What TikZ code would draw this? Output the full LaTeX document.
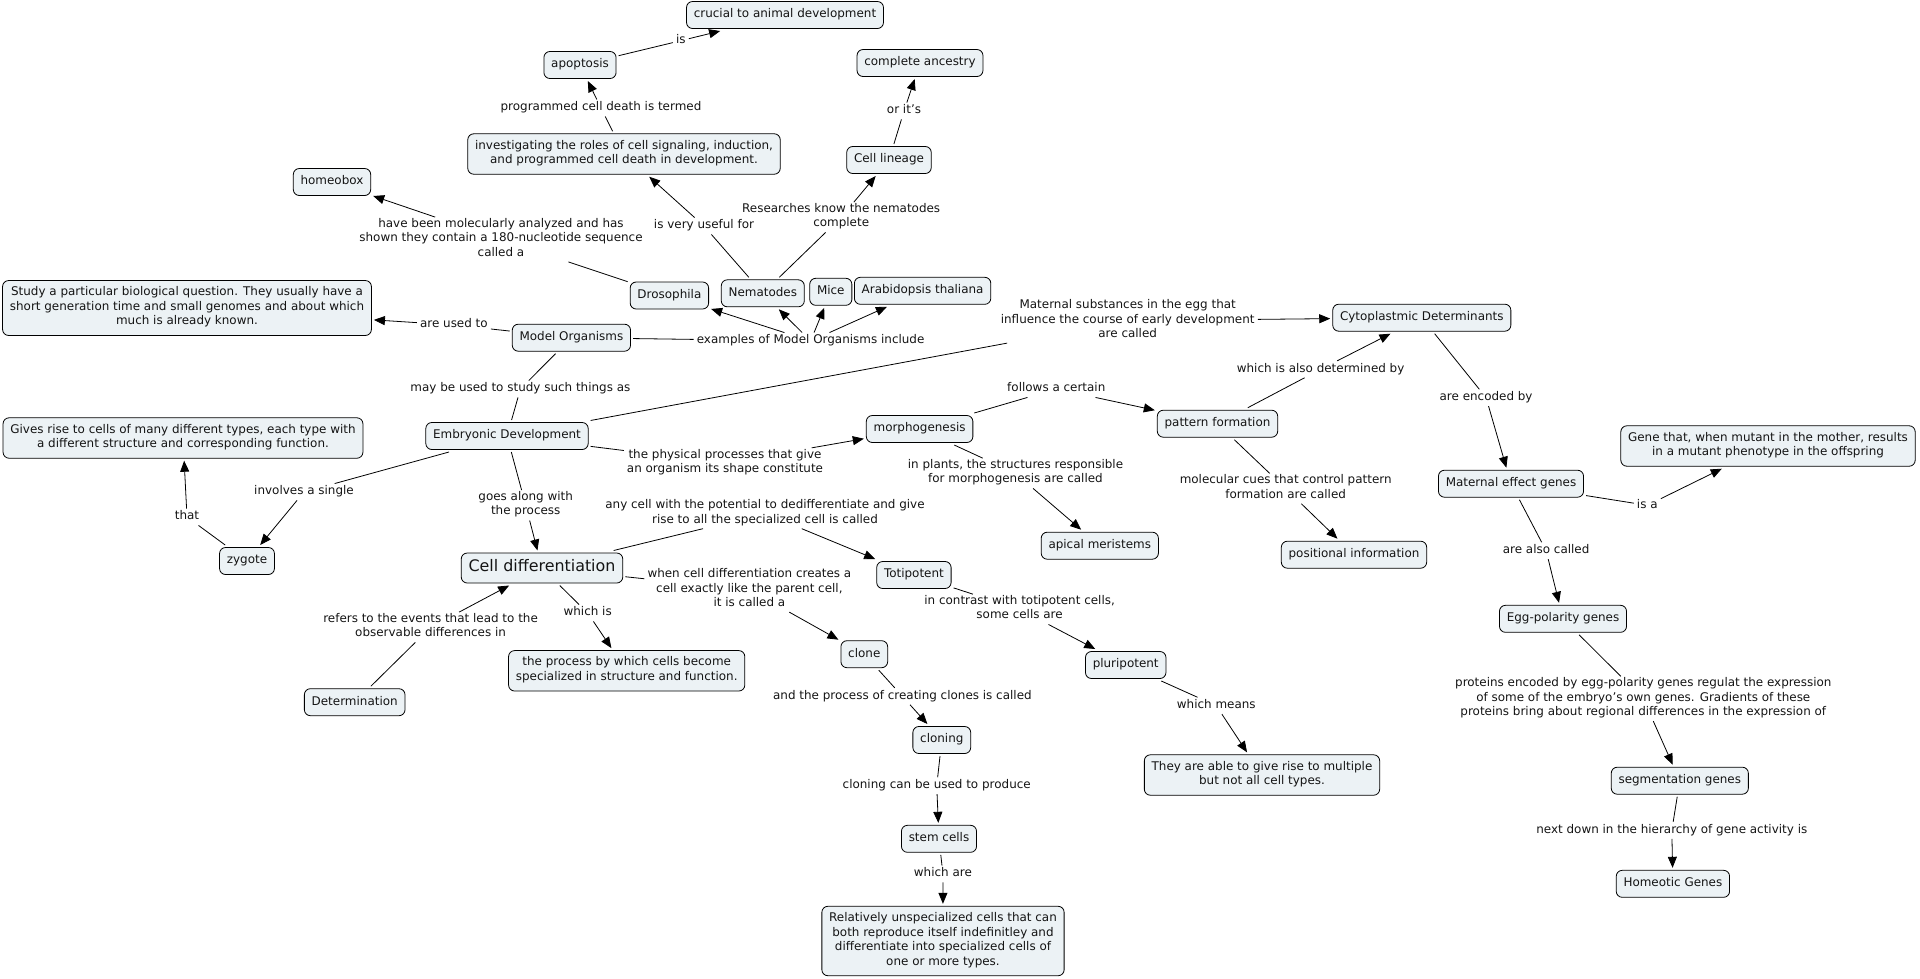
\documentclass[tikz,border=0pt]{standalone}
\usepackage{fontspec}
\setmainfont{DejaVu Sans}
\usetikzlibrary{arrows.meta}
\definecolor{cfill}{RGB}{236,242,245}
\definecolor{ink}{RGB}{20,20,20}
\begin{document}
\begin{tikzpicture}[x=1pt,y=-1pt,
  cpt/.style={draw=black, line width=0.8pt, fill=cfill, rounded corners=6pt, align=center,
    inner xsep=7.3pt, inner ysep=6.25pt, outer sep=2.5pt, text=ink,
    font=\fontsize{11.95}{14.5}\selectfont, execute at begin node=\strut, execute at end node=\strut},
  bigcpt/.style={cpt, inner ysep=5.5pt, font=\fontsize{15.9}{19}\selectfont},
  lbl/.style={align=center, inner xsep=3pt, inner ysep=1pt, text=ink,
    font=\fontsize{11.95}{14.5}\selectfont, execute at begin node=\strut, execute at end node=\strut},
  con/.style={line width=0.8pt, draw=black},
  arr/.style={line width=0.8pt, draw=black, -{Triangle[length=11pt,width=9pt]}},
]
\useasboundingbox (0,0) rectangle (1920,978);

% ---------- concepts ----------
\node[cpt] (crucial) at (785,15) {crucial to animal development};
\node[cpt] (apoptosis) at (580,65) {apoptosis};
\node[cpt] (ancestry) at (920,63) {complete ancestry};
\node[cpt] (invest) at (624,154) {investigating the roles of cell signaling, induction,\\and programmed cell death in development.};
\node[cpt] (lineage) at (889,160) {Cell lineage};
\node[cpt] (homeobox) at (332,182) {homeobox};
\node[cpt] (drosophila) at (669.4,295.5) {Drosophila};
\node[cpt] (nematodes) at (762.8,293.3) {Nematodes};
\node[cpt] (mice) at (830.8,291.8) {Mice};
\node[cpt] (arabid) at (922.6,290.8) {Arabidopsis thaliana};
\node[cpt] (study) at (187,308) {Study a particular biological question. They usually have a\\short generation time and small genomes and about which\\much is already known.};
\node[cpt] (modelorg) at (571.4,337.7) {Model Organisms};
\node[cpt] (cyto) at (1421.8,317.7) {Cytoplastmic Determinants};
\node[cpt] (embryo) at (507,436) {Embryonic Development};
\node[cpt] (gives) at (183,438) {Gives rise to cells of many different types, each type with\\a different structure and corresponding function.};
\node[cpt] (morpho) at (919.6,429) {morphogenesis};
\node[cpt] (pattern) at (1217.5,423.7) {pattern formation};
\node[cpt] (gene) at (1768,446) {Gene that, when mutant in the mother, results\\in a mutant phenotype in the offspring};
\node[cpt] (maternal) at (1511,483.7) {Maternal effect genes};
\node[cpt] (apical) at (1099.8,545.7) {apical meristems};
\node[cpt] (positional) at (1354,554.7) {positional information};
\node[cpt] (zygote) at (247,561) {zygote};
\node[bigcpt] (celldiff) at (542,568) {Cell differentiation};
\node[cpt] (totipotent) at (913.9,575) {Totipotent};
\node[cpt] (egg) at (1563,618.8) {Egg-polarity genes};
\node[cpt] (process) at (626.7,670.8) {the process by which cells become\\specialized in structure and function.};
\node[cpt] (clone) at (864.3,654.2) {clone};
\node[cpt] (pluri) at (1125.7,665) {pluripotent};
\node[cpt] (determination) at (354.7,702.2) {Determination};
\node[cpt] (cloning) at (941.8,740) {cloning};
\node[cpt] (able) at (1262,775) {They are able to give rise to multiple\\but not all cell types.};
\node[cpt] (segmentation) at (1679.8,780.7) {segmentation genes};
\node[cpt] (stem) at (939,838.8) {stem cells};
\node[cpt] (homeotic) at (1672.9,883.8) {Homeotic Genes};
\node[cpt] (relatively) at (943,941) {Relatively unspecialized cells that can\\both reproduce itself indefinitley and\\differentiate into specialized cells of\\one or more types.};

% ---------- linking phrases ----------
\node[lbl] (lis) at (680.8,40.7) {is};
\node[lbl] (lorits) at (904,111) {or it's};
\node[lbl] (lprog) at (601,108) {programmed cell death is termed};
\node[lbl] (luseful) at (704,226) {is very useful for};
\node[lbl] (lresearch) at (841.2,217.3) {Researches know the nematodes\\complete};
\node[lbl] (lhomeo) at (501,239.5) {have been molecularly analyzed and has\\shown they contain a 180-nucleotide sequence\\called a};
\node[lbl] (lused) at (453.9,325) {are used to};
\node[lbl] (lexamples) at (810.6,341) {examples of Model Organisms include};
\node[lbl] (lmaternal) at (1127.7,320.7) {Maternal substances in the egg that\\influence the course of early development\\are called};
\node[lbl] (lmay) at (520.4,389) {may be used to study such things as};
\node[lbl] (lwhichalso) at (1320.6,369.3) {which is also determined by};
\node[lbl] (lfollows) at (1056.3,389) {follows a certain};
\node[lbl] (lencoded) at (1486.1,397.7) {are encoded by};
\node[lbl] (lphysical) at (725,463) {the physical processes that give\\an organism its shape constitute};
\node[lbl] (lplants) at (1015.5,473.3) {in plants, the structures responsible\\for morphogenesis are called};
\node[lbl] (lmolecular) at (1285.7,488.6) {molecular cues that control pattern\\formation are called};
\node[lbl] (linvolves) at (304,492) {involves a single};
\node[lbl] (lgoes) at (525.7,505.3) {goes along with\\the process};
\node[lbl] (lanycell) at (765,513.5) {any cell with the potential to dedifferentiate and give\\rise to all the specialized cell is called};
\node[lbl] (lisa) at (1647.3,505.3) {is a};
\node[lbl] (lthat) at (187,517) {that};
\node[lbl] (lalsocalled) at (1546.1,550.7) {are also called};
\node[lbl] (lwhen) at (749.4,589.7) {when cell differentiation creates a\\cell exactly like the parent cell,\\it is called a};
\node[lbl] (lcontrast) at (1019.6,609.3) {in contrast with totipotent cells,\\some cells are};
\node[lbl] (lwhichis) at (587.7,613) {which is};
\node[lbl] (lrefers) at (430.6,627.3) {refers to the events that lead to the\\observable differences in};
\node[lbl] (lproteins) at (1643.3,698.7) {proteins encoded by egg-polarity genes regulat the expression\\of some of the embryo's own genes. Gradients of these\\proteins bring about regional differences in the expression of};
\node[lbl] (landproc) at (902.4,696.3) {and the process of creating clones is called};
\node[lbl] (lmeans) at (1216.3,705.7) {which means};
\node[lbl] (lproduce) at (936.7,785.7) {cloning can be used to produce};
\node[lbl] (lnext) at (1671.8,830.3) {next down in the hierarchy of gene activity is};
\node[lbl] (lwhichare) at (942.9,874) {which are};

% ---------- connectors ----------
\draw[con] (apoptosis) -- (lis);   \draw[arr] (lis) -- (crucial);
\draw[con] (lineage) -- (lorits);  \draw[arr] (lorits) -- (ancestry);
\draw[con] (invest) -- (lprog);    \draw[arr] (lprog) -- (apoptosis);
\draw[con] (nematodes) -- (luseful); \draw[arr] (luseful) -- (invest);
\draw[con] (nematodes) -- (lresearch); \draw[arr] (lresearch) -- (lineage);
\draw[con] (drosophila) -- (lhomeo); \draw[arr] (lhomeo) -- (homeobox);
\draw[con] (modelorg) -- (lused);  \draw[arr] (lused) -- (study);
\draw[con] (modelorg) -- (lexamples);
\draw[arr] (lexamples) -- (drosophila);
\draw[arr] (lexamples) -- (nematodes);
\draw[arr] (lexamples) -- (mice);
\draw[arr] (lexamples) -- (arabid);
\draw[con] (modelorg) -- (lmay);   \draw[con] (lmay) -- (embryo);
\draw[con] (embryo) -- (lmaternal); \draw[arr] (lmaternal) -- (cyto);
\draw[con] (embryo) -- (lphysical); \draw[arr] (lphysical) -- (morpho);
\draw[con] (embryo) -- (linvolves); \draw[arr] (linvolves) -- (zygote);
\draw[con] (zygote) -- (lthat);    \draw[arr] (lthat) -- (gives);
\draw[con] (embryo) -- (lgoes);    \draw[arr] (lgoes) -- (celldiff);
\draw[con] (morpho) -- (lfollows); \draw[arr] (lfollows) -- (pattern);
\draw[con] (morpho) -- (lplants);  \draw[arr] (lplants) -- (apical);
\draw[con] (pattern) -- (lwhichalso); \draw[arr] (lwhichalso) -- (cyto);
\draw[con] (pattern) -- (lmolecular); \draw[arr] (lmolecular) -- (positional);
\draw[con] (cyto) -- (lencoded);   \draw[arr] (lencoded) -- (maternal);
\draw[con] (maternal) -- (lisa);   \draw[arr] (lisa) -- (gene);
\draw[con] (maternal) -- (lalsocalled); \draw[arr] (lalsocalled) -- (egg);
\draw[con] (egg) -- (lproteins);   \draw[arr] (lproteins) -- (segmentation);
\draw[con] (segmentation) -- (lnext); \draw[arr] (lnext) -- (homeotic);
\draw[con] (celldiff) -- (lanycell); \draw[arr] (lanycell) -- (totipotent);
\draw[con] (celldiff) -- (lwhen);  \draw[arr] (lwhen) -- (clone);
\draw[con] (celldiff) -- (lwhichis); \draw[arr] (lwhichis) -- (process);
\draw[con] (determination) -- (lrefers); \draw[arr] (lrefers) -- (celldiff);
\draw[con] (totipotent) -- (lcontrast); \draw[arr] (lcontrast) -- (pluri);
\draw[con] (pluri) -- (lmeans);    \draw[arr] (lmeans) -- (able);
\draw[con] (clone) -- (landproc);  \draw[arr] (landproc) -- (cloning);
\draw[con] (cloning) -- (lproduce); \draw[arr] (lproduce) -- (stem);
\draw[con] (stem) -- (lwhichare);  \draw[arr] (lwhichare) -- (relatively);
\end{tikzpicture}
\end{document}
